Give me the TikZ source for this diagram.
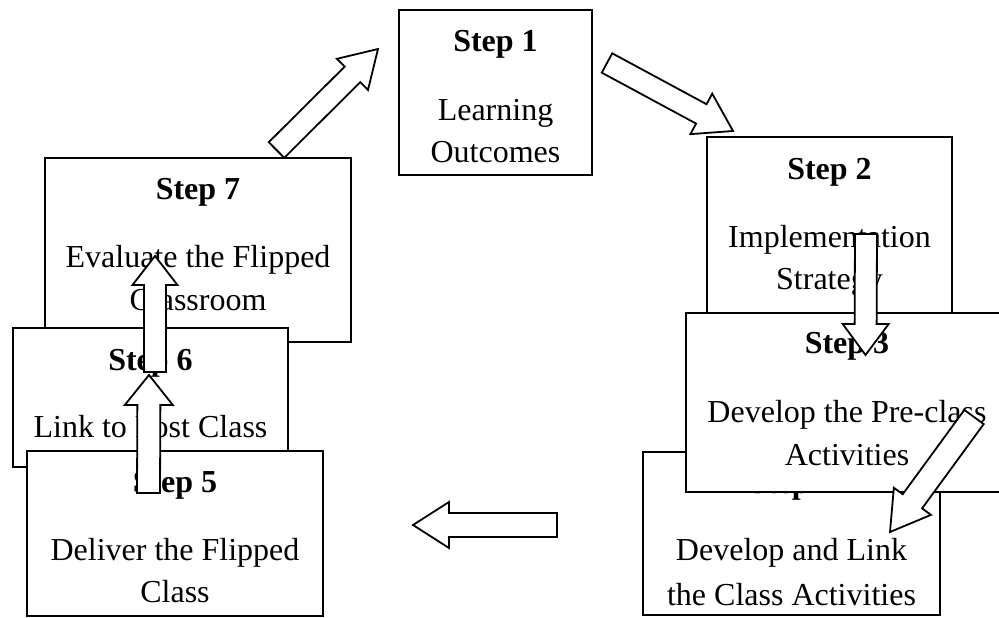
\documentclass[tikz,border=0pt]{standalone}
\usepackage{fontspec}
\setmainfont{Liberation Serif}
\usetikzlibrary{calc}
\tikzset{
  stepbox/.style={draw=black, fill=white, line width=1.8pt, inner sep=0pt, rectangle},
  titletext/.style={anchor=base, inner sep=0pt, font=\fontsize{32}{38}\selectfont\bfseries},
  bodytext/.style={anchor=base, inner sep=0pt, font=\fontsize{32}{38}\selectfont},
  barrow/.style={draw=black, fill=white, line width=1.8pt, line join=miter}
}
\newcommand{\blockarrow}[5]{%
  \coordinate (ban) at ($(#2)!#5!(#1)$);
  \draw[barrow] ($(#1)!#3!90:(#2)$) -- ($(ban)!#3!90:(#2)$) -- ($(ban)!#4!90:(#2)$) -- (#2)
    -- ($(ban)!#4!-90:(#2)$) -- ($(ban)!#3!-90:(#2)$) -- ($(#1)!#3!-90:(#2)$) -- cycle;}
\begin{document}
\begin{tikzpicture}[x=1pt,y=-1pt]
\useasboundingbox (0,0) rectangle (999,618);
\fill[white] (0,0) rectangle (999,618);
% Left column: step 7, 6, 5
\node[stepbox, minimum width=306pt, minimum height=184pt] (s7) at (198,250) {};
\node[titletext] (s7t) at (198,199) {Step 7};
\node[bodytext] (s7a) at (198,267) {Evaluate the Flipped};
\node[bodytext] (s7b) at (198,310) {Classroom};
\node[stepbox, minimum width=275pt, minimum height=139pt] (s6) at (150.5,397.5) {};
\node[titletext] (s6t) at (150.5,370) {Step 6};
\node[bodytext] (s6a) at (150.5,437) {Link to Post Class};
\node[stepbox, minimum width=296pt, minimum height=165pt] (s5) at (175,533.5) {};
\node[titletext] (s5t) at (175,492) {Step 5};
\node[bodytext] (s5a) at (175,560) {Deliver the Flipped};
\node[bodytext] (s5b) at (175,602) {Class};
% Step 1
\node[stepbox, minimum width=193pt, minimum height=165pt] (s1) at (495.5,92.5) {};
\node[titletext] (s1t) at (495.5,52) {Step 1};
\node[bodytext] (s1a) at (495.5,120) {Learning};
\node[bodytext] (s1b) at (495.5,162) {Outcomes};
% Right column: step 2, 4, 3
\node[stepbox, minimum width=245pt, minimum height=193pt] (s2) at (829.5,233.5) {};
\node[titletext] (s2t) at (829.5,179) {Step 2};
\node[bodytext] (s2a) at (829.5,247) {Implementation};
\node[bodytext] (s2b) at (829.5,289) {Strategy};
\node[stepbox, minimum width=297pt, minimum height=163pt] (s4) at (791.5,533.5) {};
\node[titletext] (s4t) at (791.5,493) {Step 4};
\node[bodytext] (s4a) at (791.5,560) {Develop and Link};
\node[bodytext] (s4b) at (791.5,605) {the Class Activities};
\node[stepbox, minimum width=322pt, minimum height=179pt] (s3) at (847,402.5) {};
\node[titletext] (s3t) at (847,353) {Step 3};
\node[bodytext] (s3a) at (847,422) {Develop the Pre-class};
\node[bodytext] (s3b) at (847,465) {Activities};
% Block arrows
\coordinate (a71t) at (276.5,150); \coordinate (a71h) at (378,49);
\coordinate (a12t) at (607,63);    \coordinate (a12h) at (733,131);
\coordinate (a23t) at (866,234);   \coordinate (a23h) at (865.5,355);
\coordinate (a34t) at (974,417);   \coordinate (a34h) at (890,532);
\coordinate (a45t) at (557,525);   \coordinate (a45h) at (413,525);
\coordinate (a56t) at (148.5,493); \coordinate (a56h) at (149,375);
\coordinate (a67t) at (155,372);   \coordinate (a67h) at (155,256);
\blockarrow{a71t}{a71h}{11pt}{22pt}{36pt}
\blockarrow{a12t}{a12h}{11pt}{23pt}{36pt}
\blockarrow{a23t}{a23h}{11pt}{23pt}{31pt}
\blockarrow{a34t}{a34h}{12pt}{23pt}{38pt}
\blockarrow{a45t}{a45h}{12pt}{23pt}{36pt}
\blockarrow{a56t}{a56h}{11.5pt}{24pt}{30pt}
\blockarrow{a67t}{a67h}{11pt}{22.5pt}{29pt}
\end{tikzpicture}
\end{document}
